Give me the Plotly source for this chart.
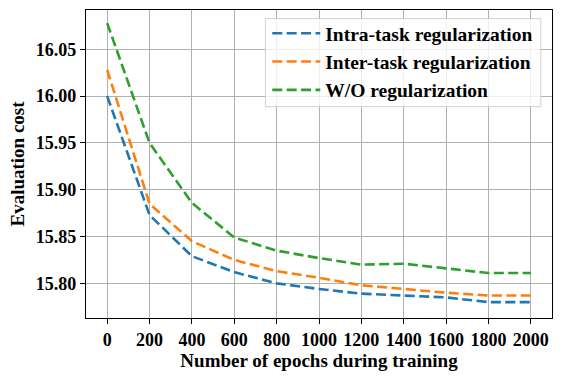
import plotly.graph_objects as go

epochs = [0, 200, 400, 600, 800, 1000, 1200, 1400, 1600, 1800, 2000]
intra = [16.000, 15.873, 15.829, 15.812, 15.800, 15.794, 15.789, 15.787, 15.785, 15.780, 15.780]
inter = [16.028, 15.885, 15.845, 15.825, 15.813, 15.806, 15.798, 15.794, 15.790, 15.787, 15.787]
wo = [16.078, 15.950, 15.886, 15.849, 15.835, 15.827, 15.820, 15.821, 15.816, 15.811, 15.811]
names = ["Intra-task regularization", "Inter-task regularization", "W/O regularization"]
colors = ["#1f77b4", "#ff7f0e", "#2ca02c"]
x_ticks = [0, 200, 400, 600, 800, 1000, 1200, 1400, 1600, 1800, 2000]
y_ticks = [15.80, 15.85, 15.90, 15.95, 16.00, 16.05]

FONT = "Liberation Serif"

fig = go.Figure()
for ys, n, c in zip([intra, inter, wo], names, colors):
    fig.add_trace(go.Scatter(x=epochs, y=ys, mode="lines", name=n,
                             line=dict(color=c, width=2.6, dash="10px,4.4px")))

axis_common = dict(showline=True, linecolor="black", linewidth=1.2, mirror=True,
                   showgrid=True, gridcolor="#b0b0b0", gridwidth=1,
                   ticks="outside", ticklen=5, tickcolor="black",
                   tickfont=dict(family=FONT, size=18, color="black", weight="bold"),
                   zeroline=False, automargin=False)

# legend frame (paper coords), drawn behind legend text
fig.add_shape(type="rect", xref="paper", yref="paper",
              x0=0.385, x1=0.976, y0=0.686, y1=0.972,
              line=dict(color="#d0d0d0", width=1),
              fillcolor="rgba(255,255,255,0.8)", layer="above")

fig.update_layout(
    width=561, height=377,
    margin=dict(l=86, r=9, t=10, b=59),
    paper_bgcolor="white", plot_bgcolor="white",
    font=dict(family=FONT, color="black"),
    xaxis=dict(range=[-100, 2100], tickvals=x_ticks,
               ticktext=[f"<b>{v}</b>" for v in x_ticks],
               title=dict(text="<b>Number of epochs during training</b>",
                          font=dict(family=FONT, size=19, color="black"), standoff=2),
               **axis_common),
    yaxis=dict(range=[15.763, 16.092], tickvals=y_ticks,
               ticktext=[f"<b>{v:.2f}</b>" for v in y_ticks],
               title=dict(text="<b>Evaluation cost</b>",
                          font=dict(family=FONT, size=19, color="black"), standoff=6),
               **axis_common),
    legend=dict(x=0.389, y=0.987, xanchor="left", yanchor="top",
                bgcolor="rgba(0,0,0,0)", borderwidth=0,
                font=dict(family=FONT, size=19.5, color="black", weight="bold"),
                tracegroupgap=0, itemwidth=48),
    showlegend=True,
)

fig.write_html("out.html", post_script="document.body.style.margin='0';",
               config={"displayModeBar": False})
